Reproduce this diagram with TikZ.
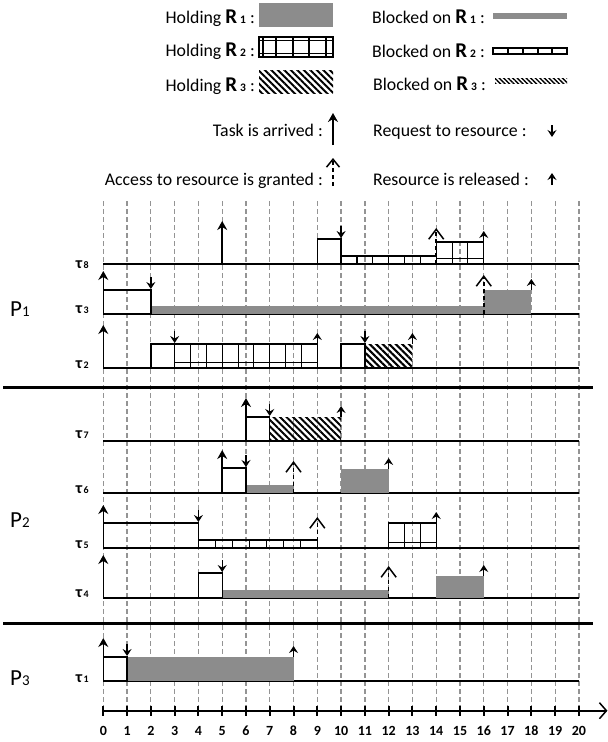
\documentclass[tikz,border=0pt]{standalone}
\usepackage{fontspec}
\setmainfont{Carlito}
\usetikzlibrary{arrows.meta,patterns.meta}
\definecolor{rgray}{gray}{0.55}
\tikzset{
  gridline/.style={black!42, line width=1.25pt, dash pattern=on 5pt off 3pt},
  baseln/.style={line width=1.3pt},
  sepline/.style={line width=3pt},
  xbox/.style={line width=1.4pt},
  hone/.style={fill=rgray},
  hthree/.style={pattern={Lines[angle=-45,distance=4.6pt,line width=2pt]}},
  bthree/.style={pattern={Lines[angle=-45,distance=3.2pt,line width=1.4pt]}},
  arrive/.style={line width=1.5pt, -{Stealth[length=9pt,width=10pt,inset=3pt]}},
  granted/.style={line width=1.5pt, dash pattern=on 4pt off 3pt, -{Straight Barb[length=10pt,width=15pt]}},
  reqarr/.style={line width=1.4pt, -{Stealth[length=7pt,width=9pt,inset=2.5pt]}},
  relarr/.style={line width=1.4pt, -{Stealth[length=7pt,width=9pt,inset=2.5pt]}},
  lbl/.style={inner sep=0pt, font=\fontsize{17.8}{20}\selectfont},
  taulbl/.style={inner sep=0pt, anchor=base east, font=\bfseries},
  plbl/.style={inner sep=0pt, anchor=base west, font=\fontsize{23}{25}\selectfont},
  axlbl/.style={inner sep=0pt, anchor=base, font=\fontsize{14}{16}\selectfont\bfseries},
}
\newcommand{\Zxb}[4]{\draw[xbox] (#2,#1) -- (#2,#1-#4) -- (#3,#1-#4) -- (#3,#1);}
\newcommand{\Zhone}[4]{\fill[hone] (#2,#1) rectangle (#3,#1-#4);}
\newcommand{\Zhthree}[4]{\fill[hthree] (#2,#1) rectangle (#3,#1-#4);}
\newcommand{\Zbone}[3]{\fill[hone] (#2,#1) rectangle (#3,#1-8);}
\newcommand{\Zhtwo}[4]{%
  \draw[xbox] (#2,#1) rectangle (#3,#1-#4);
  \pgfmathtruncatemacro\Znsg{max(1,round((#3-#2)/0.66))}%
  \foreach \k in {1,...,\Znsg}{\draw[line width=1.1pt] ({#2+(#3-#2)*\k/\Znsg},#1) -- ++(0,-#4);}%
  \draw[line width=1pt] (#2,#1-6) -- (#3,#1-6);}
\newcommand{\Zbtwo}[3]{%
  \draw[line width=1.2pt] (#2,#1) rectangle (#3,#1-8);
  \pgfmathtruncatemacro\Znsg{max(1,round((#3-#2)/0.68))}%
  \foreach \k in {1,...,\Znsg}{\draw[line width=1.1pt] ({#2+(#3-#2)*\k/\Znsg},#1) -- ++(0,-8);}}
\newcommand{\Zarr}[2]{\draw[arrive] (#2,#1) -- (#2,#1-43);}
\newcommand{\Zgr}[3]{\draw[granted] (#2,#1) -- (#2,#1-#3);}
\newcommand{\Zrq}[2]{\draw[reqarr] (#2,#1-13) -- (#2,#1-1);}
\newcommand{\Zrl}[2]{\draw[relarr] (#2,#1) -- (#2,#1-11);}
\newcommand{\ZR}[1]{{\fontsize{21}{21}\selectfont\bfseries R}\,{\fontsize{11.5}{11.5}\selectfont\bfseries #1}}
\newcommand{\Ztau}[1]{{\fontsize{16}{16}\selectfont τ}\,{\fontsize{10}{10}\selectfont #1}}
\begin{document}
\begin{tikzpicture}[x=1pt,y=-1pt]
\useasboundingbox (0,0) rectangle (608,742);
% ---------- legend ----------
\node[lbl, anchor=base east] (lh1) at (255,23) {Holding \ZR{1}\ :};
\node[lbl, anchor=base east] (lh2) at (255,56.5) {Holding \ZR{2}\ :};
\node[lbl, anchor=base east] (lh3) at (255,91.5) {Holding \ZR{3}\ :};
\fill[hone] (259,3) rectangle (333,27);
\draw[line width=1.8pt] (259,37) rectangle (333,57);
\foreach \u in {263,276,293,309,326} \draw[line width=1.2pt] (\u,37) -- (\u,57);
\draw[line width=1pt] (259,40.5) -- (333,40.5);
\draw[line width=1pt] (259,53.5) -- (333,53.5);
\fill[hthree] (259,70) rectangle (333,93);
\node[lbl, anchor=base west] (lb1) at (372,23.3) {Blocked on \ZR{1}\ :};
\node[lbl, anchor=base west] (lb2) at (372,57.3) {Blocked on \ZR{2}\ :};
\node[lbl, anchor=base west] (lb3) at (373,90) {Blocked on \ZR{3}\ :};
\fill[hone] (493,13) rectangle (567,19);
\draw[line width=1.4pt] (493,48) rectangle (567,54);
\foreach \u in {508,523,538,552} \draw[line width=1.2pt] (\u,48) -- (\u,54);
\fill[bthree] (495,78) rectangle (567,83.5);
\node[lbl, anchor=base east] (lta) at (323,136.7) {Task is arrived\ :};
\node[lbl, anchor=base east] (lac) at (323,185) {Access to resource is granted\ :};
\node[lbl, anchor=base west] (lrq) at (373,136.7) {Request to resource\ :};
\node[lbl, anchor=base west] (lrl) at (373,185) {Resource is released\ :};
\draw[arrive] (333,145) -- (333,113);
\draw[granted, -{Straight Barb[length=8pt,width=13pt]}] (333,186) -- (333,158);
\draw[reqarr] (552,125) -- (552,137);
\draw[relarr] (552,185) -- (552,173);
% ---------- processor / task labels ----------
\node[plbl] (p1) at (10,316.7) {P{\fontsize{15}{15}\selectfont 1}};
\node[plbl] (p2) at (10,527) {P{\fontsize{15}{15}\selectfont 2}};
\node[plbl] (p3) at (10,685) {P{\fontsize{15}{15}\selectfont 3}};
\node[taulbl] (t8) at (89,268) {\Ztau{8}};
\node[taulbl] (t3) at (89,313.5) {\Ztau{3}};
\node[taulbl] (t2) at (89,368.5) {\Ztau{2}};
\node[taulbl] (t7) at (89,438.5) {\Ztau{7}};
\node[taulbl] (t6) at (89,493) {\Ztau{6}};
\node[taulbl] (t5) at (89,548) {\Ztau{5}};
\node[taulbl] (t4) at (89,597) {\Ztau{4}};
\node[taulbl] (t1) at (89,682) {\Ztau{1}};
% ---------- timeline ----------
\begin{scope}[x=23.78pt, xshift=103.3pt]
\foreach \t in {0,...,20} \draw[gridline] (\t,201) -- (\t,711);
\foreach \b in {264,314,368,441,493,548,598,681} \draw[baseln] (0,\b) -- (20,\b);
% tau8
\Zxb{264}{9}{10}{25}
\Zbtwo{264}{10}{14}
\Zhtwo{264}{14}{16}{22}
\Zarr{264}{5}
\Zrq{239}{10}
\Zgr{264}{14}{36}
\Zrl{242}{16}
% tau3
\Zbone{314}{2}{16}
\Zhone{314}{16}{18}{24}
\Zxb{314}{0}{2}{24}
\Zarr{314}{0}
\Zrq{290}{2}
\Zgr{314}{16}{39}
\Zrl{290}{18}
% tau2
\Zxb{368}{2}{3}{24}
\Zhtwo{368}{3}{9}{24}
\Zxb{368}{10}{11}{24}
\Zhthree{368}{11}{13}{24}
\Zarr{368}{0}
\Zrq{344}{3}
\Zrl{344}{9}
\Zrq{344}{11}
\Zrl{344}{13}
% tau7
\Zhthree{441}{7}{10}{24}
\Zxb{441}{6}{7}{24}
\Zarr{441}{6}
\Zrq{417}{7}
\Zrl{417}{10}
% tau6
\Zbone{493}{6}{8}
\Zhone{493}{10}{12}{24}
\Zxb{493}{5}{6}{25}
\Zarr{493}{5}
\Zrq{468}{6}
\Zgr{493}{8}{32}
\Zrl{469}{12}
% tau5
\Zbtwo{548}{4}{9}
\Zhtwo{548}{12}{14}{25}
\Zxb{548}{0}{4}{25}
\Zarr{548}{0}
\Zrq{523}{4}
\Zgr{548}{9}{31}
\Zrl{523}{14}
% tau4
\Zbone{598}{5}{12}
\Zhone{598}{14}{16}{22}
\Zxb{598}{4}{5}{25}
\Zarr{598}{0}
\Zrq{573}{5}
\Zgr{598}{12}{32}
\Zrl{576}{16}
% tau1
\Zhone{681}{1}{8}{24}
\Zxb{681}{0}{1}{24}
\Zarr{681}{0}
\Zrq{657}{1}
\Zrl{657}{8}
% axis
\draw[line width=2.4pt, -{Straight Barb[length=7pt,width=16pt,line width=1.5pt]}] (0,710.7) -- (21.2,710.7);
\foreach \t in {0,...,20} \draw[line width=2pt] (\t,705.5) -- (\t,716);
\foreach \t in {0,...,20} \node[axlbl] (ax\t) at (\t,735) {\t};
\end{scope}
\draw[sepline] (3,387) -- (593,387);
\draw[sepline] (3,623.5) -- (593,623.5);
\end{tikzpicture}
\end{document}
